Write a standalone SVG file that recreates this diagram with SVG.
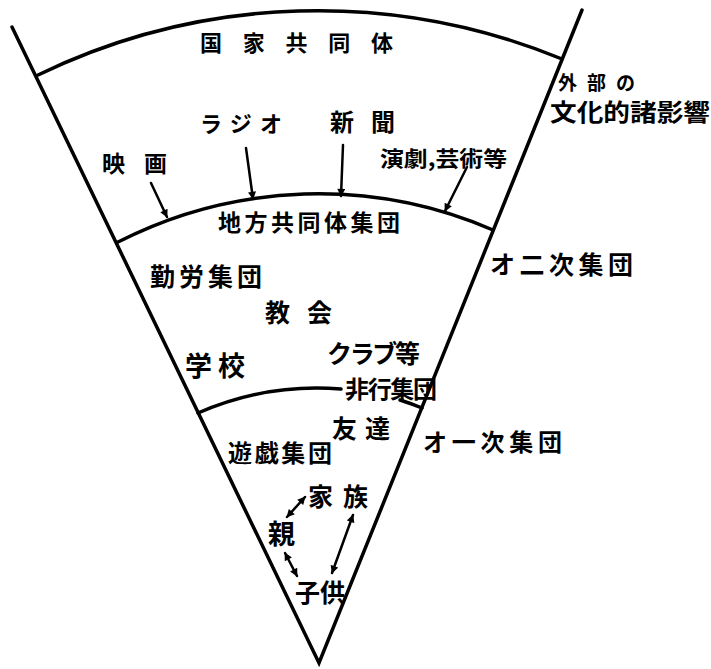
<svg xmlns="http://www.w3.org/2000/svg" width="711" height="669" viewBox="0 0 711 669">
<defs>
<style>
.ln{fill:none;stroke:#000;stroke-width:3.5;stroke-linecap:round}
.ar{fill:none;stroke:#000;stroke-width:2.5;stroke-linecap:round}
.t{font-family:"Noto Sans CJK JP","Noto Sans CJK SC",sans-serif;font-weight:700;fill:#000}
</style>
<marker id="ah" viewBox="0 0 10 10" refX="9" refY="5" markerWidth="9" markerHeight="8" markerUnits="userSpaceOnUse" orient="auto-start-reverse">
<path d="M0,0 L10,5 L0,10 Z" fill="#000"/>
</marker>
</defs>
<rect width="711" height="669" fill="#fff"/>
<g id="connectors">
<path class="ln" d="M12,27 L319,663 L582,10"/>
<path class="ln" d="M38,75 A641,641 0 0 1 562,59"/>
<path class="ln" d="M118,242 A440,440 0 0 1 493,230"/>
<path class="ln" d="M198,413 A296,296 0 0 1 341,389"/>
<path class="ln" d="M400,400 A296,296 0 0 1 422,408"/>
<line class="ar" x1="151" y1="183" x2="167" y2="217" marker-end="url(#ah)"/>
<line class="ar" x1="246" y1="148" x2="253" y2="199" marker-end="url(#ah)"/>
<line class="ar" x1="343" y1="145" x2="341" y2="196" marker-end="url(#ah)"/>
<line class="ar" x1="467" y1="167" x2="445" y2="211" marker-end="url(#ah)"/>
<line class="ar" x1="287" y1="517" x2="305" y2="497" marker-start="url(#ah)" marker-end="url(#ah)"/>
<line class="ar" x1="285" y1="553" x2="297" y2="576" marker-start="url(#ah)" marker-end="url(#ah)"/>
<line class="ar" x1="353" y1="515" x2="332" y2="573" marker-start="url(#ah)" marker-end="url(#ah)"/>
</g>
<g id="kokka"><text class="t" x="200" y="51" font-size="22" textLength="193" lengthAdjust="spacing">国家共同体</text></g>
<g id="gaibu"><text class="t" x="558" y="90" font-size="19" textLength="77" lengthAdjust="spacing">外部の</text>
<text class="t" x="550" y="121" font-size="24" textLength="160" lengthAdjust="spacingAndGlyphs">文化的諸影響</text></g>
<g id="radio"><text class="t" x="200" y="132" font-size="22" textLength="82" lengthAdjust="spacing">ラジオ</text></g>
<g id="shinbun"><text class="t" x="330" y="131" font-size="24" textLength="65" lengthAdjust="spacing">新聞</text></g>
<g id="eiga"><text class="t" x="102" y="172" font-size="23" textLength="65" lengthAdjust="spacing">映画</text></g>
<g id="engeki"><text class="t" x="380" y="166" font-size="21" textLength="127" lengthAdjust="spacingAndGlyphs">演劇,芸術等</text></g>
<g id="chiho"><text class="t" x="218" y="231" font-size="23" textLength="182" lengthAdjust="spacing">地方共同体集団</text></g>
<g id="niji"><text class="t" x="490" y="274" font-size="25" textLength="143" lengthAdjust="spacing">オ二次集団</text></g>
<g id="kinro"><text class="t" x="150" y="286" font-size="25" textLength="112" lengthAdjust="spacing">勤労集団</text></g>
<g id="kyokai"><text class="t" x="265" y="322" font-size="25" textLength="67" lengthAdjust="spacing">教会</text></g>
<g id="club"><text class="t" x="327" y="363" font-size="25" textLength="93" lengthAdjust="spacing">クラブ等</text></g>
<g id="gakko"><text class="t" x="185" y="376" font-size="27" textLength="60" lengthAdjust="spacing">学校</text></g>
<g id="hiko"><text class="t" x="345" y="398" font-size="24" textLength="92" lengthAdjust="spacing">非行集団</text></g>
<g id="tomodachi"><text class="t" x="332" y="438" font-size="25" textLength="58" lengthAdjust="spacing">友達</text></g>
<g id="ichiji"><text class="t" x="423" y="451" font-size="24" textLength="139" lengthAdjust="spacing">オ一次集団</text></g>
<g id="yugi"><text class="t" x="228" y="462" font-size="24" textLength="104" lengthAdjust="spacing">遊戯集団</text></g>
<g id="kazoku"><text class="t" x="308" y="506" font-size="25" textLength="60" lengthAdjust="spacing">家族</text></g>
<g id="oya"><text class="t" x="268" y="544" font-size="27">親</text></g>
<g id="kodomo"><text class="t" x="295" y="602" font-size="25" textLength="50" lengthAdjust="spacing">子供</text></g>
</svg>
